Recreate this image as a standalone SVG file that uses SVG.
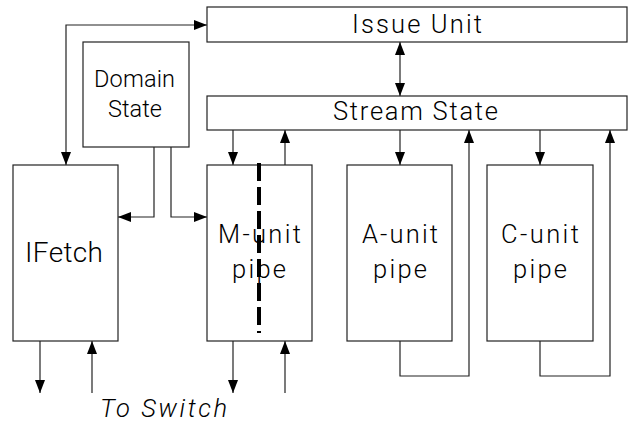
<svg xmlns="http://www.w3.org/2000/svg" width="631" height="423" viewBox="0 0 631 423">
<style>
.box{fill:#fff;stroke:#222;stroke-width:1.2}
.lbl{font-family:Roboto,"Liberation Sans",Arial,sans-serif;font-weight:300;fill:#000}
.cn{fill:none;stroke:#222;stroke-width:1.2}
.ar{marker-end:url(#ah)}
.ar2{marker-start:url(#ah);marker-end:url(#ah)}
</style>
<defs>
<marker id="ah" markerUnits="userSpaceOnUse" markerWidth="13" markerHeight="10" refX="13" refY="5" orient="auto-start-reverse" viewBox="0 0 13 10">
<path d="M0,0 L13,5 L0,10 z" fill="#000"/>
</marker>
</defs>
<rect width="631" height="423" fill="#fff"/>
<g id="connectors">
<path class="cn ar2" d="M207,25 H66 V165"/>
<path class="cn ar2" d="M400,42 V96"/>
<path class="cn ar" d="M233,130 V165"/>
<path class="cn ar" d="M285,165 V130"/>
<path class="cn ar" d="M400,130 V165"/>
<path class="cn ar" d="M400,341 V376 H469 V130"/>
<path class="cn ar" d="M540,130 V165"/>
<path class="cn ar" d="M540,341 V376 H610 V130"/>
<path class="cn ar" d="M154,147 V217 H118"/>
<path class="cn ar" d="M171,147 V217 H207"/>
<path class="cn ar" d="M40,341 V393"/>
<path class="cn ar" d="M92,393 V341"/>
<path class="cn ar" d="M233,341 V393"/>
<path class="cn ar" d="M285,393 V341"/>
</g>
<g id="issue-unit">
<rect class="box" x="207" y="7" width="420" height="35"/>
<text class="lbl" x="352" y="33" font-size="25.5" textLength="130" lengthAdjust="spacing">Issue Unit</text>
</g>
<g id="stream-state">
<rect class="box" x="207" y="96" width="420" height="34"/>
<text class="lbl" x="333" y="120" font-size="25.5" textLength="165" lengthAdjust="spacing">Stream State</text>
</g>
<g id="domain-state">
<rect class="box" x="83" y="42" width="106" height="105"/>
<text class="lbl" x="94" y="87" font-size="23.5" textLength="81" lengthAdjust="spacing">Domain</text>
<text class="lbl" x="108" y="117" font-size="23.5" textLength="54" lengthAdjust="spacing">State</text>
</g>
<g id="ifetch">
<rect class="box" x="13" y="165" width="105" height="176"/>
<text class="lbl" x="25" y="262" font-size="28" textLength="78" lengthAdjust="spacing">IFetch</text>
</g>
<g id="m-unit">
<rect class="box" x="207" y="165" width="105" height="176"/>
<text class="lbl" x="218" y="243" font-size="25.5" textLength="83" lengthAdjust="spacing">M-unit</text>
<text class="lbl" x="232" y="278" font-size="25.5" textLength="54" lengthAdjust="spacing">pipe</text>
<line x1="259" y1="163" x2="259" y2="333" stroke="#000" stroke-width="4" stroke-dasharray="18,6"/>
</g>
<g id="a-unit">
<rect class="box" x="347" y="165" width="105" height="176"/>
<text class="lbl" x="362" y="243" font-size="25.5" textLength="76" lengthAdjust="spacing">A-unit</text>
<text class="lbl" x="373" y="278" font-size="25.5" textLength="54" lengthAdjust="spacing">pipe</text>
</g>
<g id="c-unit">
<rect class="box" x="487" y="165" width="106" height="176"/>
<text class="lbl" x="501" y="243" font-size="25.5" textLength="78" lengthAdjust="spacing">C-unit</text>
<text class="lbl" x="513" y="278" font-size="25.5" textLength="54" lengthAdjust="spacing">pipe</text>
</g>
<g id="to-switch">
<text class="lbl" x="100" y="417" font-size="25.5" font-style="italic" textLength="127" lengthAdjust="spacing">To Switch</text>
</g>
</svg>
